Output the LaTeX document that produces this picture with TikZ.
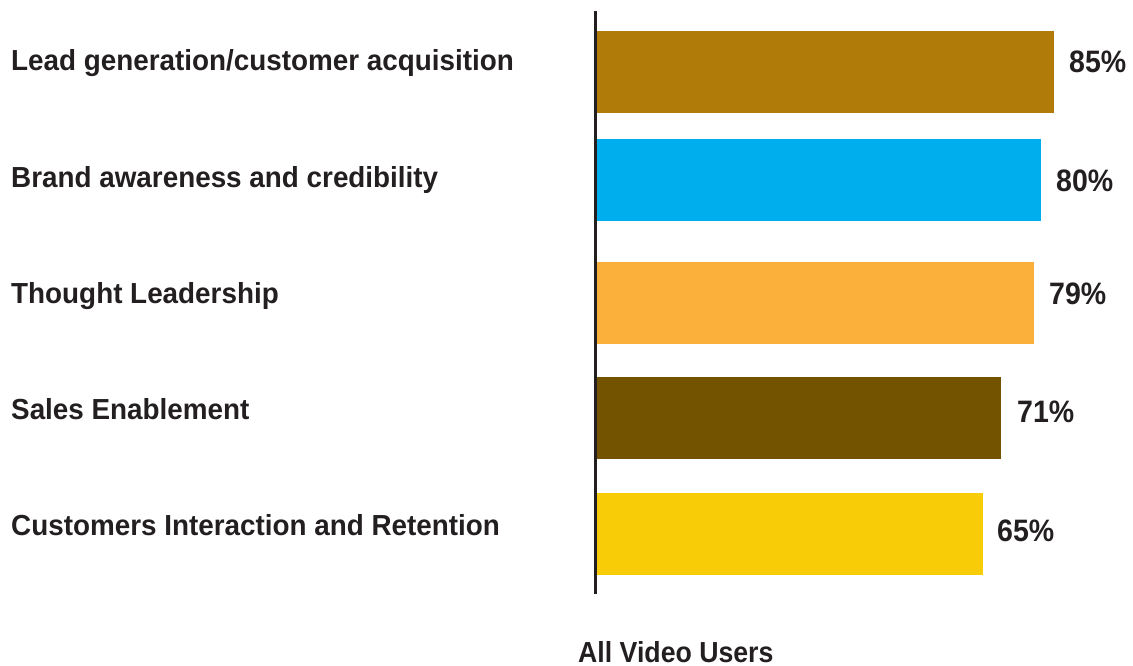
\documentclass[tikz,border=0pt]{standalone}
\usepackage{fontspec}
\setmainfont{Liberation Sans}[FakeStretch=0.96]
\newfontfamily\narrowbold{Liberation Sans}[FakeStretch=0.92]
\usepackage{tikz}

\definecolor{inkGray}{HTML}{231F20}
\definecolor{goldBar}{HTML}{B07B08}
\definecolor{cyanBar}{HTML}{00AEEE}
\definecolor{orangeBar}{HTML}{FBB03B}
\definecolor{brownBar}{HTML}{735300}
\definecolor{yellowBar}{HTML}{F8CC06}

\begin{document}
\begin{tikzpicture}[
        x=1pt, y=-1pt,
        item/.style={anchor=base west, inner sep=0pt, text=inkGray,
            font=\bfseries\fontsize{29}{29}\selectfont},
        pct/.style={anchor=base west, inner sep=0pt, text=inkGray,
            font=\narrowbold\bfseries\fontsize{31}{31}\selectfont}
    ]
    \useasboundingbox (0,0) rectangle (1133,666);

    % bars
    \fill[goldBar]   (597,31)  rectangle (1054,113);
    \fill[cyanBar]   (597,139) rectangle (1041,221);
    \fill[orangeBar] (597,262) rectangle (1034,344);
    \fill[brownBar]  (597,377) rectangle (1001,459);
    \fill[yellowBar] (597,493) rectangle (983,575);

    % axis
    \draw[inkGray, line width=3pt] (595.5,11) -- (595.5,594);

    % category labels
    \node[item] (lead)    at (11,71)  {Lead generation/customer acquisition};
    \node[item] (brand)   at (11,187) {Brand awareness and credibility};
    \node[item] (thought) at (11,303) {Thought Leadership};
    \node[item] (sales)   at (11,419) {Sales Enablement};
    \node[item] (retain)  at (11,535) {Customers Interaction and Retention};

    % values
    \node[pct] (vlead)    at (1069,73)  {85\%};
    \node[pct] (vbrand)   at (1056,192) {80\%};
    \node[pct] (vthought) at (1049,304) {79\%};
    \node[pct] (vsales)   at (1017,422) {71\%};
    \node[pct] (vretain)  at (997,541)  {65\%};

    \node[pct, font=\narrowbold\bfseries\fontsize{29}{29}\selectfont]
        (users) at (578,662) {All Video Users};
\end{tikzpicture}
\end{document}
